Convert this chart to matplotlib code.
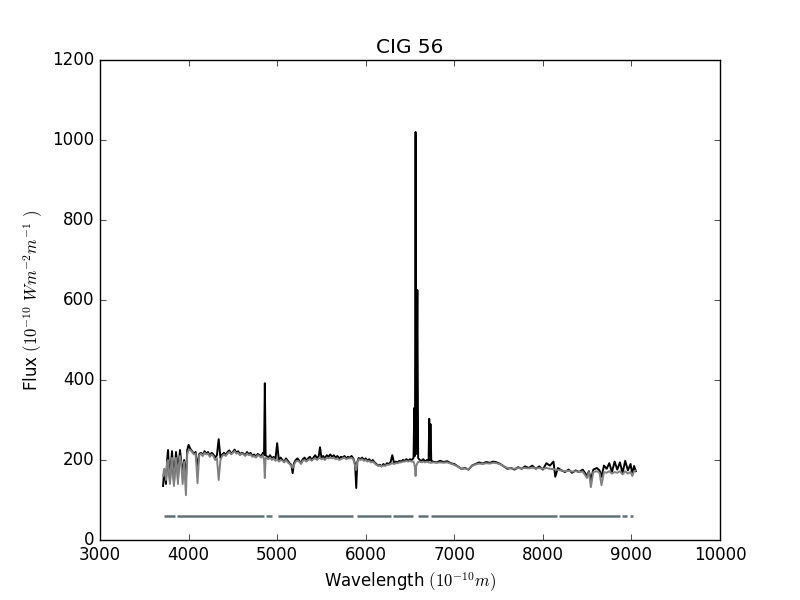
import numpy as np
import matplotlib
matplotlib.use("Agg")
import matplotlib.pyplot as plt

wavelength = [
    3712, 3725, 3735, 3745, 3758, 3768, 3780, 3790, 3802, 3813, 3825, 3835,
    3847, 3858, 3870, 3880, 3892, 3903, 3915, 3933, 3950, 3970, 3985, 4000,
    4020, 4040, 4060, 4080, 4101, 4120, 4140, 4160, 4180, 4200, 4220, 4240,
    4260, 4280, 4300, 4320, 4340, 4360, 4380, 4400, 4420, 4440, 4460, 4480,
    4500, 4520, 4540, 4560, 4580, 4600, 4620, 4640, 4660, 4680, 4700, 4720,
    4740, 4760, 4780, 4800, 4820, 4840, 4852, 4861, 4870,
    4880, 4900, 4920, 4940, 4960, 4980, 5000, 5020, 5040, 5060, 5080, 5100,
    5120, 5140, 5160, 5175, 5190, 5210, 5230, 5250, 5270, 5290, 5310, 5330,
    5350, 5370, 5390, 5410, 5430, 5450, 5470, 5484, 5500, 5520, 5540, 5560,
    5580, 5600, 5620, 5640, 5660, 5680, 5700, 5720, 5740, 5760, 5780, 5800,
    5820, 5840, 5860, 5880, 5893, 5905, 5920,
    5940, 5960, 5980, 6000, 6020, 6040, 6060, 6080, 6100, 6120, 6140, 6160,
    6180, 6200, 6220, 6240, 6260, 6280, 6300, 6320, 6340, 6360, 6380, 6400,
    6420, 6440, 6460, 6480, 6500, 6520, 6540, 6548, 6556, 6563, 6570, 6583,
    6592, 6610, 6630, 6650, 6670, 6690, 6710, 6717, 6724, 6731, 6740,
    6760, 6800, 6840, 6880, 6920, 6960, 7000, 7040, 7080, 7120, 7160, 7200,
    7240, 7280, 7320, 7360, 7400, 7440, 7480, 7520, 7560, 7600, 7640, 7680,
    7720, 7760, 7800, 7840, 7880, 7920, 7960, 8000, 8040, 8080, 8120, 8140,
    8170, 8210, 8250, 8290, 8330, 8370, 8410, 8450, 8498, 8520, 8542, 8570,
    8610, 8640, 8662, 8690, 8720, 8750, 8780, 8810, 8840, 8870, 8900, 8930,
    8960, 8990, 9010, 9030, 9050,
]

flux_obs = [
    135, 175, 160, 140, 200, 225, 175, 145, 190, 222, 180, 140,
    185, 220, 195, 150, 195, 225, 200, 165, 200, 150, 225, 238,
    228, 222, 216, 220, 180, 215, 218, 212, 222, 216, 220, 210,
    218, 214, 206, 212, 252, 205, 214, 218, 212, 220, 224, 216,
    220, 226, 218, 222, 214, 218, 216, 212, 220, 214, 218, 210,
    214, 208, 215, 212, 210, 218, 212, 392, 212,
    210, 205, 212, 204, 208, 200, 242, 198, 206, 200, 196, 204,
    198, 192, 188, 167, 192, 200, 204, 198, 192, 202, 206, 198,
    204, 208, 200, 206, 212, 204, 210, 232, 206, 210, 204, 212,
    208, 214, 208, 212, 206, 210, 204, 208, 206, 210, 204, 208,
    206, 210, 204, 190, 130, 195, 205,
    202, 206, 200, 204, 198, 202, 196, 200, 194, 190, 186, 188,
    184, 190, 186, 192, 190, 194, 212, 192, 196, 194, 198, 196,
    200, 198, 202, 198, 202, 200, 205, 330, 210, 1020, 215, 625,
    205, 200, 198, 202, 196, 200, 198, 303, 200, 290, 198,
    196, 194, 198, 195, 197, 192, 190, 184, 178, 180, 176, 186,
    190, 194, 191, 195, 193, 196, 194, 190, 184, 178, 180, 176,
    182, 178, 184, 180, 186, 178, 184, 176, 192, 186, 196, 158,
    180, 174, 170, 176, 168, 174, 170, 176, 160, 172, 150, 176,
    180, 174, 158, 186, 178, 192, 170, 196, 176, 194, 168, 198,
    174, 190, 165, 185, 172,
]

flux_fit = [
    160, 178, 165, 150, 195, 200, 170, 140, 185, 205, 175, 135,
    180, 205, 185, 140, 190, 210, 195, 140, 195, 112, 215, 225,
    225, 220, 214, 216, 142, 212, 216, 210, 218, 214, 216, 208,
    214, 210, 200, 205, 150, 200, 210, 214, 210, 216, 220, 214,
    218, 222, 216, 218, 212, 216, 214, 210, 216, 212, 214, 208,
    210, 206, 212, 210, 206, 212, 200, 155, 205,
    206, 202, 206, 200, 204, 198, 202, 196, 200, 198, 194, 200,
    194, 190, 186, 180, 188, 196, 198, 196, 190, 198, 200, 196,
    200, 202, 198, 202, 204, 200, 204, 205, 202, 204, 200, 206,
    204, 206, 204, 206, 202, 204, 200, 202, 204, 206, 202, 204,
    204, 205, 202, 185, 175, 195, 202,
    200, 202, 198, 200, 196, 198, 194, 196, 192, 188, 186, 186,
    184, 186, 186, 188, 188, 190, 192, 190, 192, 192, 194, 194,
    196, 196, 198, 196, 198, 196, 196, 190, 180, 160, 185, 192,
    195, 196, 194, 196, 194, 196, 194, 194, 194, 193, 193,
    194, 193, 194, 193, 194, 191, 188, 183, 178, 179, 177, 185,
    189, 191, 190, 192, 191, 193, 192, 189, 184, 180, 179, 178,
    180, 179, 180, 179, 181, 179, 180, 178, 180, 178, 177, 176,
    175, 174, 172, 173, 171, 172, 170, 171, 155, 170, 132, 170,
    172, 168, 137, 170, 168, 172, 166, 170, 168, 172, 164, 172,
    166, 170, 160, 172, 174,
]

# Wavelength windows used in the fit (drawn as a flat line at 60)
mask_start = [3723, 3869, 4871, 5010, 5902, 6308, 6590, 6737, 8183, 8894, 8984]
mask_end = [3847, 4852, 4939, 5857, 6285, 6534, 6703, 8160, 8871, 8950, 9018]
mask_level = 60

plt.style.use('classic')
fig = plt.figure(figsize=(8, 6), dpi=100)
ax = fig.add_subplot(111)

ax.plot(wavelength, flux_obs, color='black', lw=1.4)
ax.plot(wavelength, flux_fit, color='gray', lw=1.4)
ax.hlines([mask_level] * len(mask_start), mask_start, mask_end,
          colors='#617177', lw=1.8)

ax.set_xlim(3000, 10000)
ax.set_ylim(0, 1200)
ax.set_xlabel(r'Wavelength $(10^{-10}m)$')
ax.set_ylabel(r'Flux $(10^{-10}\ Wm^{-2}m^{-1}\ )$')
ax.set_title('CIG 56')

fig.savefig('out.png', dpi=100)
